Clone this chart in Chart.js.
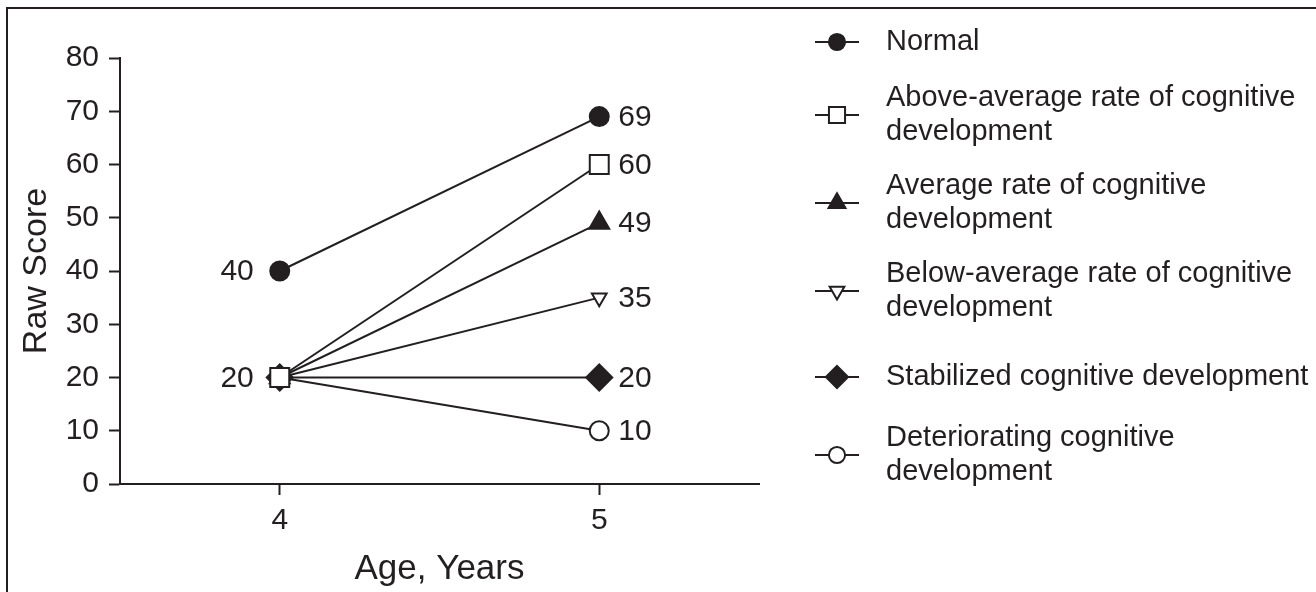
<!DOCTYPE html>
<html>
<head>
<meta charset="utf-8">
<script src="https://cdn.jsdelivr.net/npm/chart.js@4/dist/chart.umd.min.js"></script>
<style>
    body { margin: 0; background: #fff; }
    #wrap { position: relative; width: 1316px; height: 592px; overflow: hidden; }
    #frame {
        position: absolute; left: 6px; top: 7px; width: 1400px; height: 700px;
        border-top: 2px solid #231f20; border-left: 2px solid #231f20;
    }
    #chart { position: absolute; left: 0; top: 0; }
</style>
</head>
<body>
<div id="wrap">
    <div id="frame"></div>
    <canvas id="chart" width="1316" height="592"></canvas>
</div>
<script>
const ages = [4, 5];
const seriesNames = [
    ['Normal'],
    ['Above-average rate of cognitive', 'development'],
    ['Average rate of cognitive', 'development'],
    ['Below-average rate of cognitive', 'development'],
    ['Stabilized cognitive development'],
    ['Deteriorating cognitive', 'development']
];
const normal = [40, 69];
const aboveAverage = [20, 60];
const average = [20, 49];
const belowAverage = [20, 35];
const stabilized = [20, 20];
const deteriorating = [20, 10];
const yTicks = [0, 10, 20, 30, 40, 50, 60, 70, 80];

const ink = '#231f20';
const font = "'Liberation Sans', Arial, sans-serif";

function toPoints(values) {
    return ages.map((a, i) => ({ x: a, y: values[i] }));
}

function series(i, values, style, radius, filled, rotation) {
    return {
        label: seriesNames[i].join(' '),
        lines: seriesNames[i],
        data: toPoints(values),
        borderColor: ink,
        borderWidth: 2,
        pointStyle: style,
        pointRadius: radius,
        pointRotation: rotation || 0,
        pointBorderWidth: 2,
        pointBorderColor: ink,
        pointBackgroundColor: filled ? ink : '#fff',
        tension: 0
    };
}

// value labels next to the points
const valueLabels = {
    id: 'valueLabels',
    afterDatasetsDraw(chart) {
        const ctx = chart.ctx;
        ctx.save();
        ctx.font = '30px ' + font;
        ctx.fillStyle = ink;
        ctx.textBaseline = 'middle';
        const done = {};
        chart.data.datasets.forEach((ds, d) => {
            chart.getDatasetMeta(d).data.forEach((pt, i) => {
                const v = ds.data[i].y;
                if (i === 0) {
                    if (done[v]) return;
                    done[v] = true;
                    ctx.textAlign = 'right';
                    ctx.fillText(String(v), pt.x - 26, pt.y + 1);
                } else {
                    ctx.textAlign = 'left';
                    ctx.fillText(String(v), pt.x + 19, pt.y + 1);
                }
            });
        });
        ctx.restore();
    }
};

// legend on the right with wrapped names
const legendRows = [42, 115, 203, 291, 377, 455]; // centre of each entry
const sideLegend = {
    id: 'sideLegend',
    afterDraw(chart) {
        const ctx = chart.ctx;
        const lineH = 34;
        const mx = 837, tx = 886;
        ctx.save();
        chart.data.datasets.forEach((ds, d) => {
            const cy = legendRows[d];
            const half = ds.lines.length * lineH / 2;

            ctx.strokeStyle = ink;
            ctx.lineWidth = 2;
            ctx.beginPath();
            ctx.moveTo(mx - 22, cy);
            ctx.lineTo(mx + 22, cy);
            ctx.stroke();

            ctx.fillStyle = ds.pointBackgroundColor;
            const r = ds.pointRotation ? ds.pointRadius : ds.pointRadius * 0.85;
            Chart.helpers.drawPoint(ctx, {
                pointStyle: ds.pointStyle,
                rotation: ds.pointRotation,
                radius: r,
                borderWidth: 2
            }, mx, cy);

            ctx.fillStyle = ink;
            ctx.font = '29px ' + font;
            ctx.textAlign = 'left';
            ctx.textBaseline = 'middle';
            ds.lines.forEach((t, k) => {
                ctx.fillText(t, tx, cy - half + lineH / 2 + k * lineH);
            });
        });
        ctx.restore();
    }
};

new Chart(document.getElementById('chart'), {
    type: 'line',
    data: {
        datasets: [
            series(0, normal, 'circle', 9.5, true),
            series(1, aboveAverage, 'rect', 13.4, false),
            series(2, average, 'triangle', 11.5, true),
            series(3, belowAverage, 'triangle', 8.5, false, 180),
            series(4, stabilized, 'rectRot', 13, true),
            series(5, deteriorating, 'circle', 9.5, false)
        ]
    },
    options: {
        responsive: false,
        animation: false,
        layout: { padding: { top: 58, left: 0, right: 557, bottom: 0 } },
        plugins: {
            legend: { display: false },
            tooltip: { enabled: false }
        },
        scales: {
            x: {
                type: 'linear',
                min: 3.5,
                max: 5.5,
                afterBuildTicks: scale => { scale.ticks = ages.map(v => ({ value: v })); },
                afterFit: scale => { scale.height = 108; },
                grid: { drawOnChartArea: false, tickLength: 11, tickWidth: 2, tickColor: ink },
                border: { color: ink, width: 2 },
                ticks: { color: ink, font: { family: font, size: 30 }, padding: 8 },
                title: {
                    display: true, text: 'Age, Years', color: ink,
                    font: { family: font, size: 35 }, padding: { top: 0, bottom: 2 }
                }
            },
            y: {
                min: 0,
                max: 80,
                afterBuildTicks: scale => { scale.ticks = yTicks.map(v => ({ value: v })); },
                afterFit: scale => { scale.width = 120; },
                grid: { drawOnChartArea: false, tickLength: 11, tickWidth: 2, tickColor: ink },
                border: { color: ink, width: 2 },
                ticks: { color: ink, font: { family: font, size: 30 }, padding: 10 },
                title: {
                    display: true, text: 'Raw Score', color: ink,
                    font: { family: font, size: 34 }, padding: { top: 16, bottom: 0 }
                }
            }
        }
    },
    plugins: [valueLabels, sideLegend]
});
</script>
</body>
</html>
